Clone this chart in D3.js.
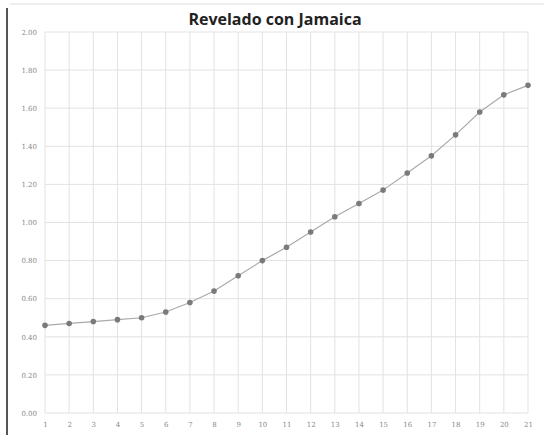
<!DOCTYPE html>
<html>
<head>
<meta charset="utf-8">
<script src="https://cdn.jsdelivr.net/npm/d3@7"></script>
<style>
  body { margin: 0; background: #fff; }
  svg { display: block; }
</style>
</head>
<body>
<svg></svg>
<script>
// data
const days = d3.range(1, 22);
const values = [0.46, 0.47, 0.48, 0.49, 0.50, 0.53, 0.58, 0.64, 0.72, 0.80, 0.87,
                0.95, 1.03, 1.10, 1.17, 1.26, 1.35, 1.46, 1.58, 1.67, 1.72];
const yTicks = [0, 0.2, 0.4, 0.6, 0.8, 1.0, 1.2, 1.4, 1.6, 1.8, 2.0];
const title = "Revelado con Jamaica";

const width = 544;
const height = 435;
const margin = { top: 32, left: 45, bottom: 22, right: 16 };

const canvas = d3.select("svg").attr("width", width).attr("height", height);

const xScale = d3.scalePoint()
    .domain(days)
    .range([margin.left, width - margin.right]);

const yScale = d3.scaleLinear()
    .domain([0, 2])
    .range([height - margin.bottom, margin.top]);

// frame bits from the scan
canvas.append("line")
    .attr("x1", 7).attr("x2", 7).attr("y1", 8).attr("y2", height)
    .attr("stroke", "#555").attr("stroke-width", 2);
canvas.append("line")
    .attr("x1", 10).attr("x2", width).attr("y1", 4).attr("y2", 4)
    .attr("stroke", "#ddd").attr("stroke-width", 1);

// grid
canvas.append("g")
    .selectAll("line")
    .data(yTicks)
    .join("line")
    .attr("x1", margin.left).attr("x2", width - margin.right)
    .attr("y1", d => yScale(d)).attr("y2", d => yScale(d))
    .attr("stroke", "#e2e2e2");

canvas.append("g")
    .selectAll("line")
    .data(days)
    .join("line")
    .attr("x1", d => xScale(d)).attr("x2", d => xScale(d))
    .attr("y1", yScale(2)).attr("y2", yScale(0))
    .attr("stroke", "#e2e2e2");

let yAxes = d3.axisLeft(yScale).tickValues(yTicks).tickFormat(d3.format(".2f")).tickSize(0).tickPadding(8);
let xAxes = d3.axisBottom(xScale).tickSize(0).tickPadding(9);

const yg = canvas.append("g")
    .attr("transform", `translate(${margin.left},0)`)
    .call(yAxes);
const xg = canvas.append("g")
    .attr("transform", `translate(0,${height - margin.bottom})`)
    .call(xAxes);

[yg, xg].forEach(g => {
    g.select(".domain").remove();
    g.selectAll("text")
        .attr("fill", "#888")
        .style("font-family", "DejaVu Serif, serif")
        .style("font-size", "7px");
});

// series
const line = d3.line()
    .x((d, i) => xScale(days[i]))
    .y(d => yScale(d));

canvas.append("path")
    .datum(values)
    .attr("d", line)
    .attr("fill", "none")
    .attr("stroke", "#aaa")
    .attr("stroke-width", 1.2);

canvas.selectAll("circle")
    .data(values)
    .join("circle")
    .attr("cx", (d, i) => xScale(days[i]))
    .attr("cy", d => yScale(d))
    .attr("r", 2.8)
    .attr("fill", "#7a7a7a");

canvas.append("text")
    .attr("x", 275)
    .attr("y", 25)
    .attr("text-anchor", "middle")
    .style("font-family", "Open Sans, sans-serif")
    .style("font-weight", "bold")
    .style("font-size", "16px")
    .attr("fill", "#222")
    .text(title);
</script>
</body>
</html>
